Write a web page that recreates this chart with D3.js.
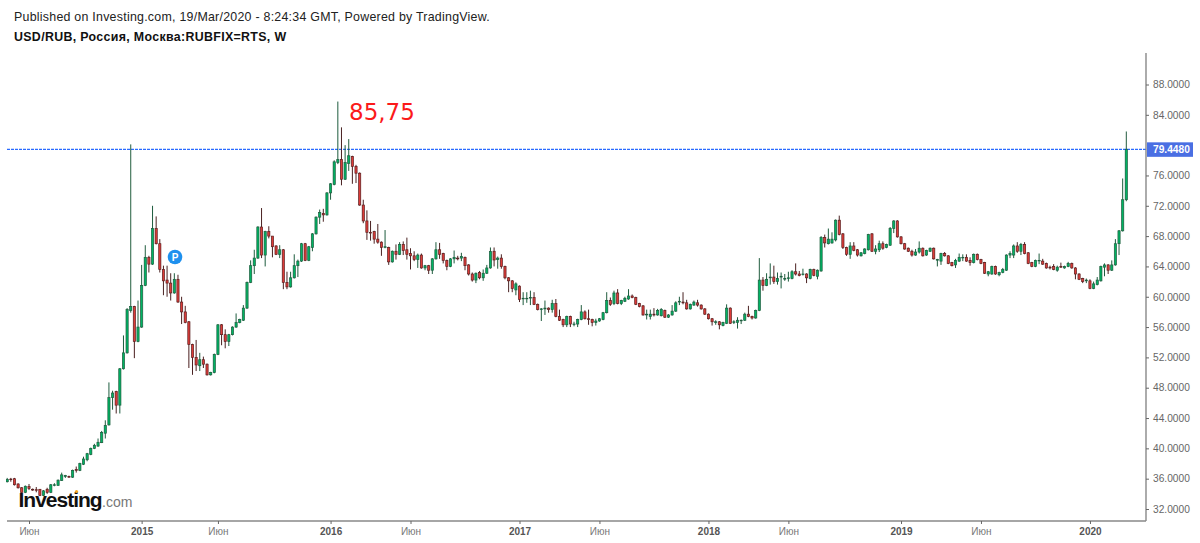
<!DOCTYPE html>
<html>
<head>
<meta charset="utf-8">
<script src="https://cdnjs.cloudflare.com/ajax/libs/d3/7.8.5/d3.min.js"></script>
<style>
html,body{margin:0;padding:0;background:#fff}
svg{display:block}
text{font-family:"Liberation Sans",Arial,sans-serif}
</style>
</head>
<body>
<svg id="c" width="1200" height="543"></svg>
<script>
const publishedText = "Published on Investing.com, 19/Mar/2020 - 8:24:34 GMT, Powered by TradingView.";
const titleText = "USD/RUB, Россия, Москва:RUBFIX=RTS, W";
const annotationText = "85,75";
const lastPrice = 79.4480;
const priceTicks = [88,84,76,72,68,64,60,56,52,48,44,40,36,32];
const timeTickIndex = [6,37,58,89,111,141,163,193,215,246,268,298];
const timeTickLabels = ["Июн","2015","Июн","2016","Июн","2017","Июн","2018","Июн","2019","Июн","2020"];

const opens = [35.6,35.95,36.0,35.3,34.8,34.2,34.95,34.6,34.55,34.6,33.8,34.6,34.2,35.2,35.1,35.75,36.3,36.3,36.2,37.2,37.1,37.9,38.5,39.2,40.0,40.3,40.75,42.0,43.1,46.7,47.5,45.7,50.5,52.6,58.2,58.7,54.1,56.0,61.5,65.2,64.3,69.0,67.0,63.6,62.2,61.8,60.5,62.3,59.3,58.0,56.7,53.7,52.0,50.9,51.7,51.1,49.7,50.0,52.4,56.3,55.0,54.1,55.0,56.0,56.6,56.9,58.5,61.9,64.1,65.1,69.2,65.5,68.6,68.0,66.7,65.6,66.2,61.9,61.3,62.5,64.1,
64.7,67.0,64.8,66.5,68.3,70.5,71.0,70.8,73.7,74.8,77.7,78.1,75.5,77.6,78.5,77.2,76.3,72.1,70.0,68.5,68.6,67.6,67.2,66.6,66.5,64.6,66.0,65.6,66.9,66.2,65.7,65.4,64.9,65.5,63.8,64.1,63.5,65.0,66.2,65.7,64.8,64.0,65.0,65.1,65.1,65.2,64.2,63.0,62.2,63.2,
62.5,63.1,63.8,66.0,64.9,65.1,64.0,62.5,62.1,60.9,61.4,59.8,59.8,59.9,59.9,59.0,58.4,58.4,58.5,58.3,59.1,57.4,57.0,56.3,57.4,56.4,56.4,57.0,58.0,57.1,57.0,56.6,56.8,57.0,57.9,59.5,59.1,60.5,59.1,59.4,59.7,60.1,59.9,59.1,58.8,57.6,57.4,57.7,57.6,57.5,58.2,57.3,57.6,58.1,59.3,59.3,59.2,58.4,58.9,59.2,58.9,58.4,57.7,57.1,56.7,56.7,56.2,56.5,58.5,56.6,56.6,56.9,56.9,57.7,57.4,57.2,58.2,62.2,61.5,
62.5,62.6,62.0,62.6,62.4,62.4,62.4,63.3,63.0,63.0,63.0,62.4,63.6,62.7,63.4,67.8,67.0,67.1,67.5,70.1,68.3,66.5,65.6,66.7,66.2,65.4,65.7,66.2,68.3,66.0,66.2,67.0,66.5,66.8,69.0,70.0,67.9,67.0,66.4,66.0,65.5,65.9,66.4,65.5,66.0,66.4,64.9,64.7,65.7,65.4,64.5,64.2,64.7,65.2,65.2,64.8,64.5,65.6,64.9,64.5,63.0,63.0,64.0,62.9,63.2,63.5,65.5,65.5,66.7,66.0,66.9,65.8,64.5,64.0,64.8,64.7,64.4,63.9,64.0,63.5,
64.0,63.8,64.0,64.4,63.8,63.0,62.4,62.1,62.1,61.1,61.6,62.1,63.9,64.2,63.5,64.2,67.0,68.7,72.8];
const closes = [35.9,35.9,35.2,34.8,34.2,35.0,34.7,34.5,34.5,33.8,34.4,34.2,35.2,35.2,35.8,36.5,36.4,36.2,37.1,37.1,38.0,38.6,39.3,40.0,40.4,40.8,42.1,43.0,46.7,47.3,45.7,50.5,52.6,58.3,58.7,54.1,56.0,61.5,65.2,64.3,69.0,67.0,63.6,62.1,61.8,60.5,62.3,59.3,58.0,56.6,53.7,52.0,51.0,51.7,51.1,49.7,50.0,52.4,56.3,55.0,54.1,55.0,56.0,56.6,57.0,58.5,61.9,64.1,65.1,69.2,65.5,68.6,68.0,66.6,65.6,66.2,61.9,61.3,62.5,64.1,64.7,
67.0,64.8,66.6,68.3,70.5,71.1,70.8,73.7,74.9,77.8,78.1,75.5,77.7,78.6,77.2,76.3,72.1,70.0,68.5,68.4,67.6,67.2,66.5,66.6,64.6,66.0,65.6,66.9,66.1,65.6,65.4,64.9,65.5,63.8,64.1,63.5,65.0,66.2,65.6,64.8,64.0,65.0,65.2,65.0,65.3,64.1,63.0,62.2,63.1,62.5,
63.1,63.8,65.95,64.85,65.1,64.0,62.5,62.1,61.1,61.7,59.65,59.8,59.8,59.9,59.0,58.3,58.4,58.5,58.3,59.1,57.4,56.9,56.3,57.4,56.4,56.4,57.0,58.0,57.1,57.0,56.6,56.8,57.1,57.9,59.5,59.0,60.5,59.1,59.5,59.8,60.1,59.9,59.0,58.7,57.6,57.7,57.7,57.6,58.2,58.3,57.3,57.6,58.1,59.2,59.4,59.2,58.4,59.0,59.3,58.9,58.4,57.7,57.1,56.7,56.7,56.3,56.6,58.5,56.5,56.7,56.9,56.9,57.7,57.4,57.2,58.2,62.2,61.5,62.3,
62.6,62.0,62.4,62.7,62.4,62.5,63.3,63.0,62.8,63.0,62.5,63.6,62.8,63.5,67.8,67.1,67.6,67.6,70.1,68.2,66.5,65.6,66.7,66.1,65.5,65.8,66.3,68.2,66.0,66.3,67.0,66.4,66.9,69.0,70.0,67.9,67.0,66.3,66.0,65.5,65.9,66.4,65.4,66.1,66.4,65.0,64.9,65.7,65.4,64.4,64.1,64.8,65.2,65.2,64.7,64.5,65.6,64.9,64.4,63.1,63.3,64.0,63.0,63.2,63.6,65.5,65.7,66.7,66.0,66.9,65.7,64.4,64.0,64.8,64.8,64.3,63.8,63.8,63.6,63.9,
63.9,64.0,64.4,63.8,63.0,62.3,62.0,62.2,61.1,61.7,62.2,64.0,64.2,63.5,64.2,67.0,68.7,72.8,79.448];
const highs = [36.1,36.1,36.1,35.4,34.9,35.1,35.3,34.7,34.9,34.6,34.5,34.8,35.3,35.4,35.9,36.8,36.5,36.4,37.2,37.6,38.1,38.9,39.4,40.1,40.6,41.3,42.3,43.7,48.7,47.6,47.6,50.6,54.9,58.5,80.1,58.8,59.5,64.2,66.8,65.4,72.0,70.6,67.6,64.1,64.1,63.1,63.1,62.9,60.0,58.8,56.8,53.8,54.3,52.6,52.1,51.2,50.1,52.5,56.4,56.4,55.7,55.1,56.1,57.8,57.1,58.9,62.0,64.8,66.2,69.3,71.7,68.7,69.3,67.9,66.8,66.8,66.3,63.3,63.3,65.6,64.9,
67.1,67.1,66.7,68.4,70.6,71.5,71.6,73.8,75.0,78.0,85.75,82.35,80.0,80.8,78.6,77.4,76.4,72.8,71.4,70.0,68.7,69.6,67.3,68.8,66.6,66.1,66.9,67.2,67.3,67.8,66.4,66.0,65.7,65.7,64.2,64.2,65.1,67.2,67.1,65.8,64.9,65.1,66.1,65.4,65.8,65.3,64.3,63.2,63.2,63.4,
63.6,64.2,66.5,66.5,65.3,65.6,64.1,62.6,62.2,61.9,61.5,60.6,60.6,60.8,60.6,59.1,58.5,59.5,58.6,59.6,59.7,58.3,57.1,57.5,57.5,56.7,57.1,58.9,58.2,58.3,57.1,57.1,57.2,58.0,60.6,59.9,60.8,61.0,59.6,60.0,61.0,60.3,60.0,59.2,58.9,58.3,58.3,58.5,58.4,58.5,58.3,57.7,58.9,59.4,60.0,60.6,59.6,59.1,59.5,59.6,59.0,58.5,57.8,57.2,56.9,56.8,56.7,59.0,58.6,56.9,57.3,57.0,57.9,58.8,57.5,58.3,65.1,62.6,63.1,
64.4,64.1,63.2,63.2,63.0,63.3,63.5,64.4,63.4,63.7,63.1,63.7,63.7,63.6,68.0,68.2,69.0,68.5,70.2,70.7,68.4,66.6,67.2,67.2,66.3,65.9,66.4,68.3,68.4,66.8,67.4,67.3,67.0,69.2,70.1,70.1,68.0,67.1,66.5,66.2,66.3,67.3,66.5,66.2,66.5,66.5,65.0,65.8,65.9,65.5,64.6,65.0,65.7,65.6,65.6,65.2,65.7,65.7,65.0,64.6,63.4,64.1,64.1,63.3,63.8,65.6,66.0,66.9,67.2,67.1,67.2,65.9,64.6,64.9,65.7,65.0,64.5,64.1,64.3,64.1,
64.5,64.1,64.6,64.5,63.9,63.1,62.5,62.4,62.3,62.0,62.6,64.1,64.4,64.3,64.8,67.6,68.8,75.6,81.8];
const lows = [35.5,35.6,35.1,34.7,34.1,34.1,34.5,34.4,34.2,33.7,33.7,34.0,34.1,35.0,35.1,35.7,36.1,36.1,36.1,36.8,37.0,37.8,38.3,39.1,39.9,40.2,40.7,41.3,43.0,45.1,44.6,44.6,50.4,52.5,57.9,51.9,54.0,55.9,61.4,63.2,64.2,66.9,63.2,60.2,60.0,59.5,60.4,59.2,56.4,56.5,50.6,49.7,50.2,50.2,50.6,49.6,49.6,49.9,52.3,53.6,53.2,53.5,54.9,55.9,56.5,56.8,58.4,61.8,63.0,65.0,65.1,64.0,67.7,65.2,65.5,65.1,61.0,61.0,61.2,62.4,62.6,
64.6,64.7,64.7,66.0,68.2,69.6,69.9,70.7,72.8,74.7,77.5,74.7,75.4,76.6,74.9,75.0,72.0,69.7,67.5,67.4,67.0,67.0,65.4,66.4,64.2,64.5,64.9,65.5,65.5,64.9,63.6,64.7,63.8,63.7,63.5,63.0,63.0,64.9,65.0,64.4,63.5,63.9,64.4,64.8,64.7,63.5,62.8,62.0,61.8,62.3,
62.1,63.0,63.7,64.0,63.7,63.7,62.3,60.6,60.6,60.2,59.3,58.9,59.2,58.9,58.9,58.2,56.8,57.6,57.9,57.9,57.3,56.8,56.0,56.0,56.0,56.1,56.0,56.9,57.0,56.3,56.1,56.2,56.7,56.9,57.8,58.8,58.9,59.0,58.9,59.3,59.6,59.8,58.9,58.6,57.5,57.0,57.0,57.4,57.5,57.4,57.2,57.2,57.5,58.0,58.9,59.0,58.3,58.3,58.8,58.7,58.3,57.6,57.0,56.2,56.3,55.7,56.1,56.4,56.4,56.4,55.8,56.4,56.8,57.3,57.0,57.1,58.1,60.8,61.4,
61.6,61.7,61.6,61.1,62.1,62.0,62.3,62.8,62.7,62.8,61.8,62.3,62.7,62.3,63.3,66.5,66.9,67.0,67.3,68.1,66.3,65.4,65.0,66.0,65.3,65.3,65.6,66.1,65.9,65.6,65.9,66.2,66.4,66.7,68.4,67.8,66.9,66.2,65.9,65.3,65.4,65.7,65.3,65.4,65.9,64.9,64.0,64.2,65.3,64.3,64.0,63.8,64.6,64.7,64.6,64.1,64.4,64.8,64.3,63.0,62.7,62.9,62.9,62.7,63.1,63.4,65.1,65.1,65.8,65.5,65.6,64.3,63.9,63.9,64.3,64.2,63.7,63.6,63.5,63.3,
63.8,63.7,63.9,63.7,62.3,62.2,61.8,61.8,61.0,61.0,61.5,62.0,62.7,63.0,63.4,64.1,65.5,68.6,72.6];

const svg = d3.select("#c");
const x = d3.scaleLinear().domain([0, opens.length - 1]).range([7.2, 1126.3]);
const y = d3.scaleLinear().domain([32, 88]).range([509, 84.5]);
const axisX = 1146, axisY = 521;

svg.append("text").attr("x",14).attr("y",20.5).attr("font-size",12.4).attr("letter-spacing",0.25).attr("fill","#222").text(publishedText);
svg.append("text").attr("x",14).attr("y",41).attr("font-size",12.4).attr("font-weight","bold").attr("letter-spacing",0.33).attr("fill","#111").text(titleText);

// Price line
svg.append("line").attr("x1",7).attr("x2",axisX).attr("y1",y(lastPrice)).attr("y2",y(lastPrice))
  .attr("stroke","#2a6bff").attr("stroke-width",1.4).attr("stroke-dasharray","3,1");

// Watermark
const logo = svg.append("g");
logo.append("text").attr("x",18.5).attr("y",507).attr("font-size",21).attr("font-weight","bold").attr("letter-spacing",-1).attr("fill","#111").text("Investing");
logo.append("text").attr("x",102).attr("y",507).attr("font-size",14).attr("fill","#777").text(".com");
logo.append("circle").attr("cx",76.5).attr("cy",491.5).attr("r",1.6).attr("fill","#f5a623");

// Candles
const idx = d3.range(opens.length);
const defs = svg.append("defs");
defs.append("filter").attr("id","soft").attr("x","0").attr("y","0").attr("width","100%").attr("height","100%")
  .append("feGaussianBlur").attr("stdDeviation",0.25);
const marks = svg.append("g").attr("filter","url(#soft)");
const color = i => closes[i] >= opens[i];
marks.selectAll("line.w").data(idx).join("line").attr("class","w")
  .attr("x1",x).attr("x2",x).attr("y1",i=>y(highs[i])).attr("y2",i=>y(lows[i]))
  .attr("stroke",i=>color(i)?"#1f5c3e":"#4a2222").attr("stroke-width",1);
marks.selectAll("rect.b").data(idx).join("rect").attr("class","b")
  .attr("x",i=>x(i)-1.1).attr("width",2.2)
  .attr("y",i=>y(Math.max(opens[i],closes[i])))
  .attr("height",i=>Math.max(0.6,Math.abs(y(opens[i])-y(closes[i]))))
  .attr("fill",i=>color(i)?"#00b364":"#dc3b38")
  .attr("stroke",i=>color(i)?"#1f5c3e":"#5a2020").attr("stroke-width",0.7);

// Annotation
svg.append("text").attr("x",349).attr("y",120).style("font-family","DejaVu Sans").attr("font-size",23).attr("fill","#fb1a1a").text(annotationText);
// Marker
const mk = svg.append("g").attr("transform","translate(175,257)");
mk.append("circle").attr("r",7.3).attr("fill","#1e90ee");
mk.append("text").attr("text-anchor","middle").attr("y",3.6).attr("font-size",10).attr("font-weight","bold").attr("fill","#fff").text("P");

// Axes
const yAxis = d3.axisRight(y).tickValues(priceTicks).tickFormat(d=>d3.format(".4f")(d)).tickSize(3).tickPadding(4);
const gy = svg.append("g").attr("transform",`translate(${axisX},0)`).call(yAxis);
gy.select(".domain").attr("d",`M0,53V${axisY}`).attr("stroke","#888").attr("stroke-width",1.4);
gy.selectAll(".tick line").attr("stroke","#666");
gy.selectAll(".tick text").attr("font-family",null).attr("font-size",10.2).attr("fill","#666");

const xTicks = d3.axisBottom(x).tickValues(timeTickIndex).tickFormat((d,i)=>timeTickLabels[i]).tickSize(3).tickPadding(4);
const gx = svg.append("g").attr("transform",`translate(0,${axisY})`).call(xTicks);
gx.select(".domain").attr("d",`M7,0H${axisX}`).attr("stroke","#888").attr("stroke-width",1.4);
gx.selectAll(".tick line").attr("stroke","#666");
gx.selectAll(".tick text").attr("font-size",10).attr("font-family",null)
  .attr("fill",(d,i)=>/\d/.test(timeTickLabels[i])?"#555":"#777")
  .attr("font-weight",(d,i)=>/\d/.test(timeTickLabels[i])?"bold":"normal");

// Last price label
const lb = svg.append("g").attr("transform",`translate(${axisX+1},${y(lastPrice)})`);
lb.append("rect").attr("x",0).attr("y",-7).attr("width",46).attr("height",14.5).attr("fill","#4a6fe3");
lb.append("text").attr("x",6).attr("y",4).attr("font-size",10.2).attr("font-weight","bold").attr("fill","#fff").text(d3.format(".4f")(lastPrice));
</script>
</body>
</html>
